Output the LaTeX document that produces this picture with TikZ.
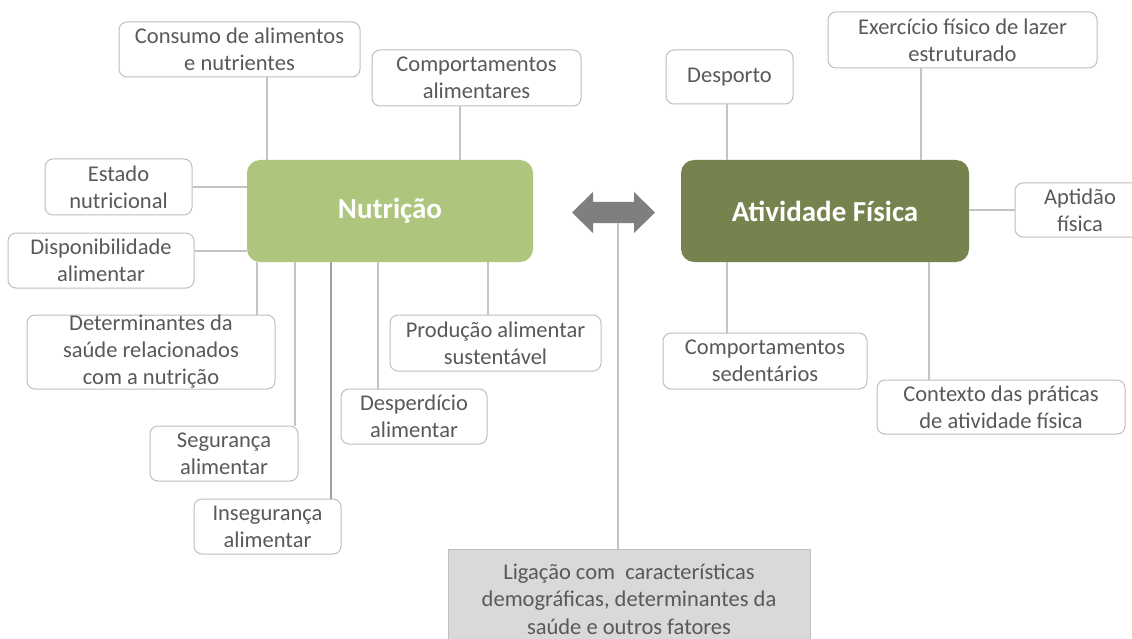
\documentclass[tikz,border=0pt]{standalone}
\usepackage{fontspec}
\setmainfont{Carlito}
\definecolor{txt}{HTML}{595959}
\definecolor{bord}{HTML}{BFBFBF}
\definecolor{conn}{HTML}{C4C4C4}
\definecolor{conndark}{HTML}{A0A0A0}
\definecolor{nutfill}{HTML}{AEC57D}
\definecolor{affill}{HTML}{77834F}
\definecolor{arrgray}{HTML}{7F7F7F}
\definecolor{ligfill}{HTML}{D9D9D9}
\tikzset{
  leaf/.style={draw=bord, line width=1pt, rounded corners=8pt, fill=white, text=txt,
    align=center, inner sep=0pt, font=\fontsize{22.5}{27}\selectfont},
  hub/.style={rounded corners=13pt, text=white, align=center, inner sep=0pt,
    minimum width=#1, minimum height=102pt, font=\fontsize{29}{34}\selectfont\bfseries},
  link/.style={draw=conn, line width=1.3pt},
  linkdark/.style={draw=conndark, line width=1.5pt},
}
\begin{document}
\begin{tikzpicture}[x=1pt,y=-1pt]
\clip (0,0) rectangle (1132,639);
\fill[white] (0,0) rectangle (1132,639);

% hubs
\node[hub=286pt, fill=nutfill] (nut) at (390,211) {Nutrição};
\node[hub=288pt, fill=affill] (af) at (825,211) {Atividade Física};

% nutrition leaves
\node[leaf, minimum width=241pt, minimum height=55pt] (cons) at (239.5,49.5) {Consumo de alimentos\\e nutrientes};
\node[leaf, minimum width=209pt, minimum height=56pt] (calim) at (476.5,78) {Comportamentos\\alimentares};
\node[leaf, minimum width=147pt, minimum height=56pt] (est) at (118.5,187) {Estado\\nutricional};
\node[leaf, minimum width=186pt, minimum height=55pt] (disp) at (101,260.5) {Disponibilidade\\alimentar};
\node[leaf, minimum width=248pt, minimum height=74pt] (det) at (151,352) {Determinantes da\\saúde relacionados\\com a nutrição};
\node[leaf, minimum width=148pt, minimum height=55pt] (seg) at (224,453.5) {Segurança\\alimentar};
\node[leaf, minimum width=147pt, minimum height=55pt] (ins) at (267.5,526.5) {Insegurança\\alimentar};
\node[leaf, minimum width=146pt, minimum height=55pt] (desp) at (414,416.5) {Desperdício\\alimentar};
\node[leaf, minimum width=211pt, minimum height=56pt] (prod) at (495.5,343) {Produção alimentar\\sustentável};

% physical activity leaves
\node[leaf, minimum width=127pt, minimum height=54pt] (dpt) at (729.5,77) {Desporto};
\node[leaf, minimum width=269pt, minimum height=56pt] (exe) at (962.5,40) {Exercício físico de lazer\\estruturado};
\node[leaf, minimum width=130pt, minimum height=54pt] (apt) at (1080,210) {Aptidão\\física};
\node[leaf, minimum width=204pt, minimum height=56pt] (sed) at (765,361) {Comportamentos\\sedentários};
\node[leaf, minimum width=248pt, minimum height=54pt] (ctx) at (1001,407) {Contexto das práticas\\de atividade física};

% bottom box
\node[draw=bord, line width=1pt, fill=ligfill, text=txt, align=center, inner sep=0pt,
  minimum width=362pt, minimum height=100pt, font=\fontsize{22.5}{27.5}\selectfont]
  (lig) at (629,599) {Ligação com\ \ características\\demográficas, determinantes da\\saúde e outros fatores};

% double arrow
\fill[arrgray] (572,212.5) -- (593,192) -- (593,202) -- (634,202) -- (634,192) -- (655,212.5)
  -- (634,233) -- (634,223) -- (593,223) -- (593,233) -- cycle;
\coordinate (arrb) at (618,223);

% connector positions
\coordinate (x1) at (267,0);
\coordinate (x2) at (460,0);
\coordinate (x3) at (257,0);
\coordinate (x4) at (295,0);
\coordinate (x5) at (331,0);
\coordinate (x6) at (378,0);
\coordinate (x7) at (488,0);
\coordinate (x8) at (727,0);
\coordinate (x9) at (921,0);
\coordinate (x10) at (929,0);
\coordinate (y1) at (0,187);
\coordinate (y2) at (0,251);
\coordinate (y3) at (0,210);

% connectors
\draw[link] (cons.south -| x1) -- (nut.north -| x1);
\draw[link] (calim.south -| x2) -- (nut.north -| x2);
\draw[link] (est.east |- y1) -- (nut.west |- y1);
\draw[link] (disp.east |- y2) -- (nut.west |- y2);
\draw[link] (nut.south -| x3) -- (det.north -| x3);
\draw[link] (nut.south -| x4) -- (seg.north -| x4);
\draw[linkdark] (nut.south -| x5) -- (ins.north -| x5);
\draw[link] (nut.south -| x6) -- (desp.north -| x6);
\draw[link] (nut.south -| x7) -- (prod.north -| x7);
\draw[link] (dpt.south -| x8) -- (af.north -| x8);
\draw[link] (exe.south -| x9) -- (af.north -| x9);
\draw[link] (af.east |- y3) -- (apt.west |- y3);
\draw[link] (af.south -| x8) -- (sed.north -| x8);
\draw[link] (af.south -| x10) -- (ctx.north -| x10);
\draw[link] (arrb) -- (lig.north -| arrb);
\end{tikzpicture}
\end{document}
